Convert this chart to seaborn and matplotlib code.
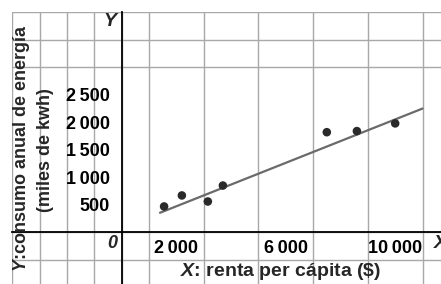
import matplotlib
matplotlib.use("Agg")
import matplotlib.pyplot as plt
import numpy as np
import pandas as pd
import seaborn as sns

# renta per capita ($) vs consumo anual de energia (miles de kwh)
renta = [1550, 2200, 3150, 3700, 7500, 8600, 10000]
consumo = [470, 670, 560, 850, 1820, 1840, 1980]
# recta de ajuste dibujada
recta_x = [1400, 11000]
recta_y = [355, 2250]

x_ticks = [2000, 4000, 6000, 8000, 10000]
x_labels = ["2\u2009000", "", "6\u2009000", "", "10\u2009000"]
y_ticks = [500, 1000, 1500, 2000, 2500]
y_labels = ["500", "1\u2009000", "1\u2009500", "2\u2009000", "2\u2009500"]

sns.set_style("white")
fams = ["Liberation Sans", "DejaVu Sans"]
plt.rcParams["font.family"] = fams
plt.rcParams["font.weight"] = "bold"
plt.rcParams["mathtext.fontset"] = "custom"
plt.rcParams["mathtext.it"] = "Liberation Sans:italic:bold"
plt.rcParams["mathtext.rm"] = "Liberation Sans:bold"

fig = plt.figure(figsize=(4.41, 2.84), dpi=100)
ax = fig.add_axes([12.3 / 441, 0, 1 - 12.3 / 441, 1 - 12.3 / 284])

df = pd.DataFrame({"renta": renta, "consumo": consumo})
fit = pd.DataFrame({"x": recta_x, "y": recta_y})

sns.lineplot(data=fit, x="x", y="y", ax=ax, color="#6a6a6a", lw=1.6, zorder=3)
sns.scatterplot(data=df, x="renta", y="consumo", ax=ax, color="#2a2a2a", s=38,
                edgecolor="none", zorder=4)

ax.set_xlim(-4000, 11675)
ax.set_ylim(-940, 4000)

# grid on minor ticks
ax.set_xticks(np.arange(-4000, 12000, 1000), minor=True)
ax.set_yticks(np.arange(-500, 4001, 500), minor=True)
ax.grid(which="minor", color="#a8a8a8", lw=1.0, zorder=0)
ax.grid(which="major", visible=False)
ax.set_axisbelow(True)

ax.set_xticks(x_ticks, x_labels)
ax.set_yticks(y_ticks, y_labels)
ax.tick_params(which="minor", length=0)
ax.tick_params(which="major", direction="inout", length=7, width=1.1, color="black",
               labelsize=13, labelcolor="black")
ax.tick_params(axis="x", pad=2)
ax.tick_params(axis="y", pad=5)

for side in ["top", "right"]:
    ax.spines[side].set_visible(False)
ax.spines["left"].set_position(("data", 0))
ax.spines["bottom"].set_position(("data", 0))
for side in ["left", "bottom"]:
    ax.spines[side].set_color("black")
    ax.spines[side].set_linewidth(1.3)
    ax.spines[side].set_zorder(2)

ax.set_xlabel("")
ax.set_ylabel("")

ax.text(-420, 3840, "Y", fontsize=14, style="italic", weight="bold", ha="center", va="center")
ax.text(11400, -200, "X", fontsize=14, style="italic", weight="bold", ha="left", va="center")
ax.text(-350, -200, "0", fontsize=13, style="italic", weight="bold", ha="center", va="center")

fig.text(281 / 441, 1 - 272 / 284, r"$\mathit{X}$: renta per cápita ($\$$)", fontsize=14,
         weight="bold", ha="center", va="center")
fig.text(22 / 441, 1 - 148 / 284, r"$\mathit{Y}$:consumo anual de energía", fontsize=13,
         weight="bold", ha="center", va="center", rotation=90)
fig.text(46 / 441, 1 - 150 / 284, "(miles de kwh)", fontsize=13,
         weight="bold", ha="center", va="center", rotation=90)

fig.savefig("out.png", dpi=100)
